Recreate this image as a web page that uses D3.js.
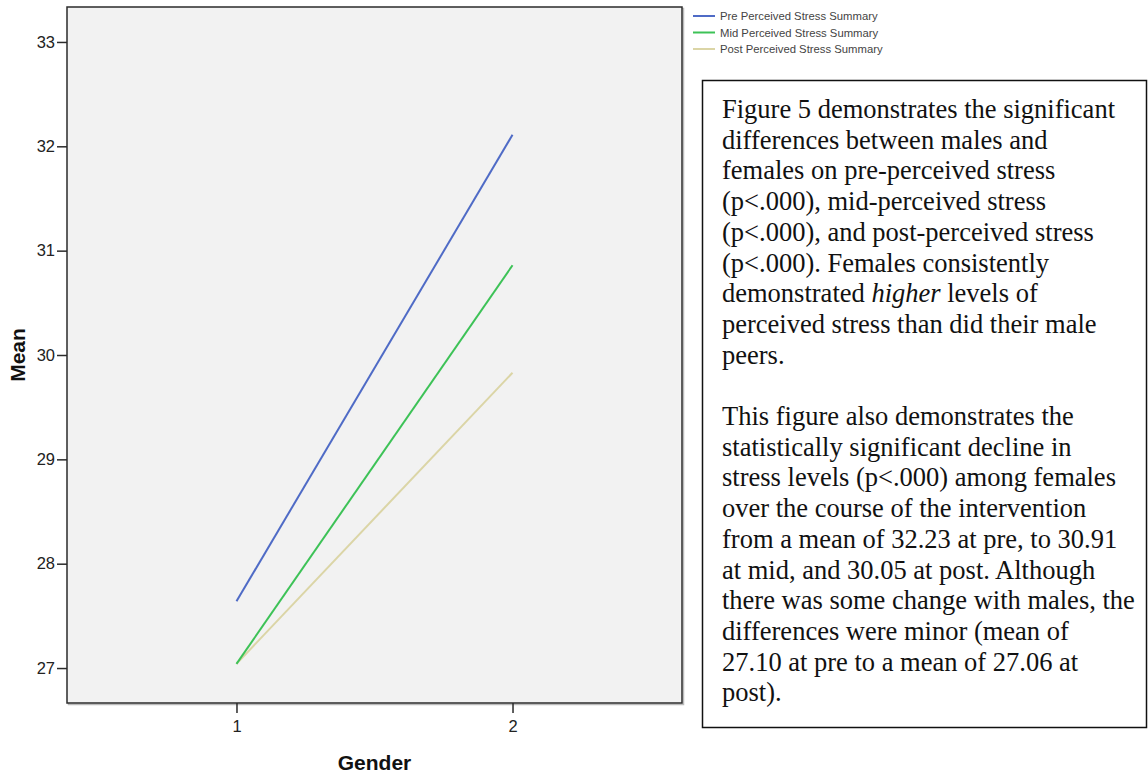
<!DOCTYPE html>
<html>
<head>
<meta charset="utf-8">
<script src="https://cdn.jsdelivr.net/npm/d3@7"></script>
<style>
  body { margin: 0; background: #fff; }
</style>
</head>
<body>
<div id="chart"></div>
<script>
// data
var genders = ['1', '2'];
var preStress = [27.64, 32.11];
var midStress = [27.04, 30.86];
var postStress = [27.04, 29.83];
var yTicks = [27, 28, 29, 30, 31, 32, 33];
var seriesNames = ['Pre Perceived Stress Summary', 'Mid Perceived Stress Summary', 'Post Perceived Stress Summary'];
var seriesColors = ['#4f6bc6', '#3dc257', '#dbd5a6'];

var noteLines = [
    ['Figure 5 demonstrates the significant'],
    ['differences between males and'],
    ['females on pre-perceived stress'],
    ['(p<.000), mid-perceived stress'],
    ['(p<.000), and post-perceived stress'],
    ['(p<.000). Females consistently'],
    ['demonstrated ', 'higher', ' levels of'],
    ['perceived stress than did their male'],
    ['peers.'],
    [''],
    ['This figure also demonstrates the'],
    ['statistically significant decline in'],
    ['stress levels (p<.000) among females'],
    ['over the course of the intervention'],
    ['from a mean of 32.23 at pre, to 30.91'],
    ['at mid, and 30.05 at post. Although'],
    ['there was some change with males, the'],
    ['differences were minor (mean of'],
    ['27.10 at pre to a mean of 27.06 at'],
    ['post).']
];

var width = 1148, height = 775;
var svg = d3.select('#chart').append('svg')
    .attr('width', width)
    .attr('height', height);

// plot area
var plotLeft = 67, plotTop = 7, plotRight = 682, plotBottom = 703;

var x = d3.scalePoint()
    .domain(genders)
    .range([plotLeft, plotRight])
    .padding(0.614);

var y = d3.scaleLinear()
    .domain([26.665, 33.335])
    .range([plotBottom, plotTop]);

// faint shadow, then the frame
svg.append('rect')
    .attr('x', plotLeft + 1.5)
    .attr('y', plotTop + 1.5)
    .attr('width', plotRight - plotLeft)
    .attr('height', plotBottom - plotTop)
    .attr('fill', 'none')
    .attr('stroke', '#bbb')
    .attr('stroke-width', 1.5);

svg.append('rect')
    .attr('x', plotLeft)
    .attr('y', plotTop)
    .attr('width', plotRight - plotLeft)
    .attr('height', plotBottom - plotTop)
    .attr('fill', '#f2f2f2')
    .attr('stroke', '#2b2b2b')
    .attr('stroke-width', 1.5);

// axes
var yAxis = svg.append('g')
    .attr('transform', 'translate(' + plotLeft + ',0)')
    .call(d3.axisLeft(y).tickValues(yTicks).tickSize(10).tickPadding(2).tickFormat(d3.format('d')));

var xAxis = svg.append('g')
    .attr('transform', 'translate(0,' + plotBottom + ')')
    .call(d3.axisBottom(x).tickSize(10).tickPadding(7));

[yAxis, xAxis].forEach(function(ax){
    ax.select('.domain').remove();
    ax.attr('font-size', null).attr('font-family', null);
    ax.selectAll('line').attr('stroke', '#2b2b2b').attr('stroke-width', 1.5);
    ax.selectAll('text')
        .style('font-family', 'Liberation Sans, Arial, sans-serif')
        .style('font-size', '16.5px')
        .attr('fill', '#222');
});

// axis titles
svg.append('text')
    .attr('transform', 'translate(25,' + (plotTop + plotBottom) / 2 + ') rotate(-90)')
    .attr('text-anchor', 'middle')
    .attr('font-family', 'Liberation Sans, Arial, sans-serif')
    .attr('font-size', '21px')
    .attr('font-weight', 'bold')
    .attr('fill', '#111')
    .text('Mean');

svg.append('text')
    .attr('x', (plotLeft + plotRight) / 2)
    .attr('y', 770)
    .attr('text-anchor', 'middle')
    .attr('font-family', 'Liberation Sans, Arial, sans-serif')
    .attr('font-size', '21px')
    .attr('font-weight', 'bold')
    .attr('fill', '#111')
    .text('Gender');

// lines
var line = d3.line()
    .x(function(d, i){ return x(genders[i]); })
    .y(function(d){ return y(d); });

var allSeries = [preStress, midStress, postStress];
for(var i = allSeries.length - 1; i >= 0; i--){
    svg.append('path')
        .datum(allSeries[i])
        .attr('d', line)
        .attr('fill', 'none')
        .attr('stroke', seriesColors[i])
        .attr('stroke-width', 2);
}

// legend
for(var k = 0; k < seriesNames.length; k++){
    var ly = 16 + k * 16.5;
    svg.append('line')
        .attr('x1', 693)
        .attr('x2', 715)
        .attr('y1', ly)
        .attr('y2', ly)
        .attr('stroke', seriesColors[k])
        .attr('stroke-width', 2);
    svg.append('text')
        .attr('x', 720)
        .attr('y', ly + 4)
        .attr('font-family', 'Liberation Sans, Arial, sans-serif')
        .attr('font-size', '11.3px')
        .attr('fill', '#444')
        .text(seriesNames[k]);
}

// note box
svg.append('rect')
    .attr('x', 702.5)
    .attr('y', 80.5)
    .attr('width', 444)
    .attr('height', 647)
    .attr('fill', '#fff')
    .attr('stroke', '#111')
    .attr('stroke-width', 1.5);

var note = svg.append('text')
    .attr('font-family', 'Liberation Serif, Times New Roman, serif')
    .attr('font-size', '26.5px')
    .attr('fill', '#111');

noteLines.forEach(function(parts, n){
    var t = note.append('tspan')
        .attr('x', 722)
        .attr('y', 118 + n * 30.7);
    parts.forEach(function(p, j){
        t.append('tspan')
            .attr('font-style', (parts.length === 3 && j === 1) ? 'italic' : null)
            .text(p);
    });
});
</script>
</body>
</html>
